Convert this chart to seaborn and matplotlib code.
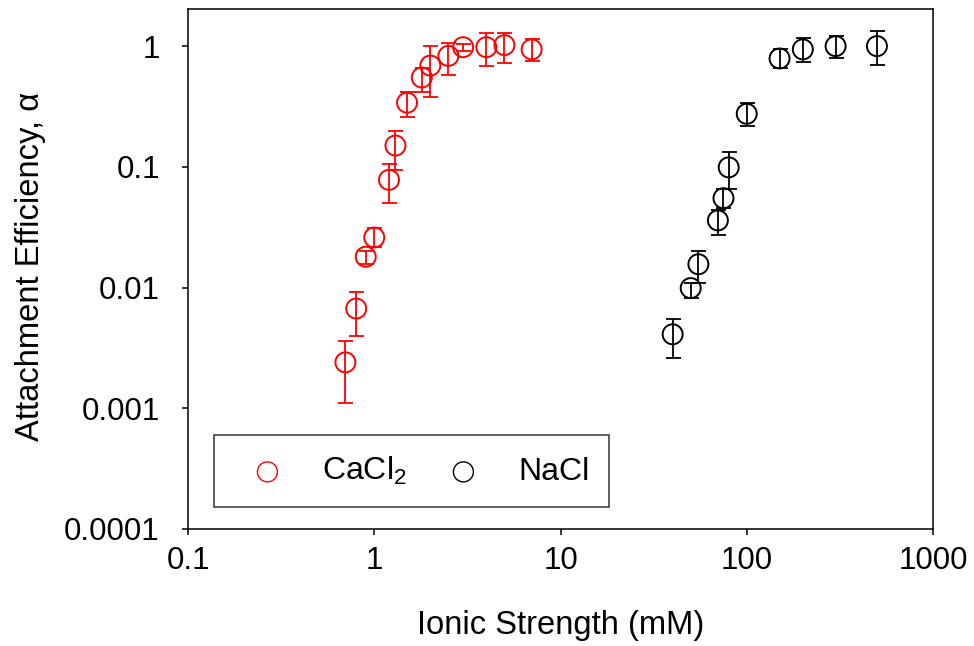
import numpy as np
import pandas as pd
import matplotlib
matplotlib.use("Agg")
import matplotlib.pyplot as plt
import seaborn as sns

# ---- data ----
cacl2_x = [0.7, 0.8, 0.9, 1.0, 1.2, 1.3, 1.5, 1.8, 2.0, 2.5, 3.0, 4.0, 5.0, 7.0]
cacl2_y = [0.0024, 0.0067, 0.018, 0.026, 0.078, 0.15, 0.34, 0.55, 0.69, 0.83, 0.98, 0.98, 1.02, 0.94]
cacl2_hi = [0.0036, 0.0092, 0.020, 0.031, 0.106, 0.20, 0.42, 0.66, 1.00, 1.06, 1.05, 1.28, 1.28, 1.14]
cacl2_lo = [0.0011, 0.0040, 0.0156, 0.0217, 0.050, 0.094, 0.26, 0.42, 0.38, 0.58, 0.91, 0.69, 0.73, 0.75]

nacl_x = [40, 50, 55, 70, 75, 80, 100, 150, 200, 300, 500]
nacl_y = [0.0041, 0.0099, 0.0156, 0.036, 0.055, 0.099, 0.275, 0.79, 0.94, 1.0, 1.0]
nacl_hi = [0.0055, 0.011, 0.020, 0.044, 0.065, 0.132, 0.337, 0.94, 1.16, 1.22, 1.33]
nacl_lo = [0.0026, 0.0082, 0.011, 0.027, 0.046, 0.065, 0.216, 0.66, 0.74, 0.80, 0.70]

x_ticks = [0.1, 1, 10, 100, 1000]
x_tick_labels = ["0.1", "1", "10", "100", "1000"]
y_ticks = [0.0001, 0.001, 0.01, 0.1, 1]
y_tick_labels = ["0.0001", "0.001", "0.01", "0.1", "1"]

series = [
    ("CaCl$_\\mathregular{2}$", "red", cacl2_x, cacl2_y, cacl2_lo, cacl2_hi),
    ("NaCl", "black", nacl_x, nacl_y, nacl_lo, nacl_hi),
]

# ---- style ----
sns.set_style("ticks")
plt.rcParams["font.family"] = ["Liberation Sans", "DejaVu Sans"]
plt.rcParams["mathtext.fontset"] = "custom"
plt.rcParams["mathtext.rm"] = "Liberation Sans"
plt.rcParams["mathtext.it"] = "Liberation Sans:italic"
plt.rcParams["text.color"] = "black"
plt.rcParams["axes.labelcolor"] = "black"
FS_TICK = 22.5
FS_LABEL = 23.6
FS_LEG = 23

fig = plt.figure(figsize=(9.74, 6.46), dpi=100)
ax = fig.add_axes([188 / 974, (646 - 529) / 646, (933 - 188) / 974, (529 - 9) / 646])

for label, color, xs, ys, lo, hi in series:
    ys_a = np.array(ys)
    yerr = np.vstack([ys_a - np.array(lo), np.array(hi) - ys_a])
    ax.errorbar(xs, ys, yerr=yerr, fmt="none", ecolor=color, elinewidth=1.3,
                capsize=5.4, capthick=1.3, zorder=2)
    df = pd.DataFrame({"x": xs, "y": ys})
    sns.scatterplot(data=df, x="x", y="y", ax=ax, marker="o", s=207,
                    color=color, facecolor="none", edgecolor=color,
                    linewidth=1.4, label=label, zorder=3)

ax.set_xscale("log")
ax.set_yscale("log")
ax.set_xlim(0.1, 1000)
ax.set_ylim(0.0001, 2.03)
ax.set_xticks(x_ticks)
ax.set_xticklabels(x_tick_labels)
ax.set_yticks(y_ticks)
ax.set_yticklabels(y_tick_labels)
ax.minorticks_off()

ax.tick_params(axis="both", which="major", direction="out", length=4.3, width=1.1,
               labelsize=FS_TICK, color="black", labelcolor="black",
               top=False, right=False)
ax.tick_params(axis="y", pad=16.0)
ax.tick_params(axis="x", pad=8.0)
for sp in ax.spines.values():
    sp.set_visible(True)
    sp.set_color("black")
    sp.set_linewidth(1.1)

ax.set_xlabel("Ionic Strength (mM)", fontsize=FS_LABEL, color="black")
ax.set_ylabel("Attachment Efficiency, \u03b1", fontsize=FS_LABEL, color="black")
ax.xaxis.set_label_coords(0.5, -0.155)
ax.yaxis.set_label_coords(-0.19, 0.505)

leg = ax.legend(loc="lower left", bbox_to_anchor=(0.035, 0.042), borderaxespad=0,
                ncol=2, fontsize=FS_LEG, frameon=True, fancybox=False,
                borderpad=0.62, handlelength=2.1, handletextpad=0.66,
                columnspacing=0.72, markerscale=1.0)
leg.get_frame().set_edgecolor("black")
leg.get_frame().set_linewidth(1.1)
for t in leg.get_texts():
    t.set_color("black")
for h in leg.legend_handles:
    h.set_linewidth(1.0)

fig.savefig("out.png", dpi=100)
